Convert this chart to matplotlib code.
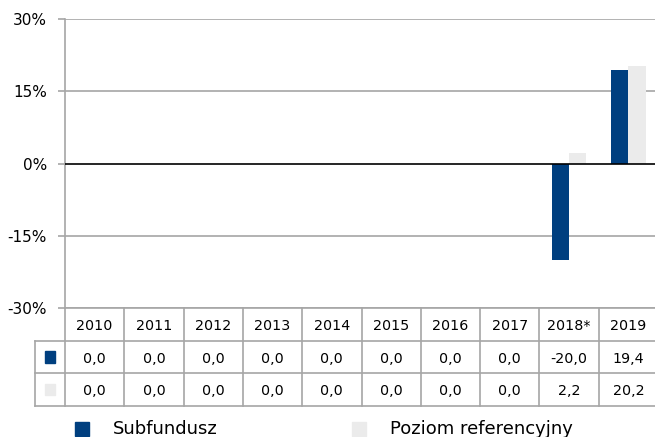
import numpy as np
import matplotlib.pyplot as plt
from matplotlib.patches import Rectangle

# dane
years = ['2010', '2011', '2012', '2013', '2014', '2015', '2016', '2017', '2018*', '2019']
subfundusz = [0.0, 0.0, 0.0, 0.0, 0.0, 0.0, 0.0, 0.0, -20.0, 19.4]
poziom_ref = [0.0, 0.0, 0.0, 0.0, 0.0, 0.0, 0.0, 0.0, 2.2, 20.2]
series_names = ['Subfundusz', 'Poziom referencyjny']
yticks = [-30, -15, 0, 15, 30]

NAVY = '#003F7F'
LGREY = '#EBEBEB'
LINE = '#A6A6A6'

W, H = 655, 437
fig = plt.figure(figsize=(W / 100, H / 100), dpi=100)
plt.rcParams['font.family'] = ['DejaVu Sans']

# prawa krawedz wykresu wychodzi poza obraz (jak w oryginale)
X0, X1 = 65, 658


def px_box(x0, y0, x1, y1):
    # piksele -> ulamki figury
    return [x0 / W, 1 - y1 / H, (x1 - x0) / W, (y1 - y0) / H]


# wykres slupkowy
ax = fig.add_axes(px_box(X0, 19, X1, 308))
x = np.arange(len(years))
bw = 0.29
ax.bar(x - bw / 2, subfundusz, bw, color=NAVY, zorder=3)
ax.bar(x + bw / 2, poziom_ref, bw, color=LGREY, zorder=3)
ax.set_xlim(-0.5, len(years) - 0.5)
ax.set_ylim(-30, 30)
ax.set_yticks(yticks)
ax.set_yticklabels([f'{t}%' for t in yticks], fontsize=11)
ax.set_xticks([])
for t in yticks:
    if t != 0:
        ax.axhline(t, color=LINE, lw=1.2, zorder=1)
ax.axhline(0, color='black', lw=1.2, zorder=4)
for s in ['top', 'right', 'bottom']:
    ax.spines[s].set_visible(False)
ax.spines['left'].set_color(LINE)
ax.spines['left'].set_linewidth(1.2)
ax.tick_params(axis='y', length=5, color=LINE, width=1.2, pad=8)

# tabela danych
lead = 30 / ((X1 - X0) / len(years))
tb = fig.add_axes(px_box(35, 308, X1, 406))
tb.set_xlim(-0.5 - lead, len(years) - 0.5)
tb.set_ylim(0, 3)
tb.axis('off')
lk = dict(color=LINE, lw=1.2, clip_on=False)
right = len(years) - 0.5
tb.plot([-0.5, right], [3, 3], **lk)
for yy in [2, 1, 0]:
    tb.plot([-0.5 - lead, right], [yy, yy], **lk)
tb.plot([-0.5 - lead, -0.5 - lead], [0, 2], **lk)
for i in range(len(years) + 1):
    tb.plot([i - 0.5, i - 0.5], [0, 3], **lk)
fmt = lambda v: f'{v:.1f}'.replace('.', ',')
for i, yr in enumerate(years):
    tb.text(i, 2.45, yr, ha='center', va='center', fontsize=10.3)
    tb.text(i, 1.45, fmt(subfundusz[i]), ha='center', va='center', fontsize=10.3)
    tb.text(i, 0.45, fmt(poziom_ref[i]), ha='center', va='center', fontsize=10.3)
kx = -0.5 - lead / 2
sq = 0.17
for row, col in [(1.5, NAVY), (0.5, LGREY)]:
    tb.add_patch(Rectangle((kx - sq / 2, row - 0.17), sq, 0.34, color=col, clip_on=False))

# legenda
for x0, col, name in [(75, NAVY, series_names[0]), (352, LGREY, series_names[1])]:
    fig.patches.append(Rectangle((x0 / W, 1 - 436 / H), 14 / W, 14 / H, color=col,
                                 transform=fig.transFigure))
    fig.text((x0 + 38) / W, 1 - 429 / H, name, fontsize=13, va='center')

plt.savefig('out.png', dpi=100)
